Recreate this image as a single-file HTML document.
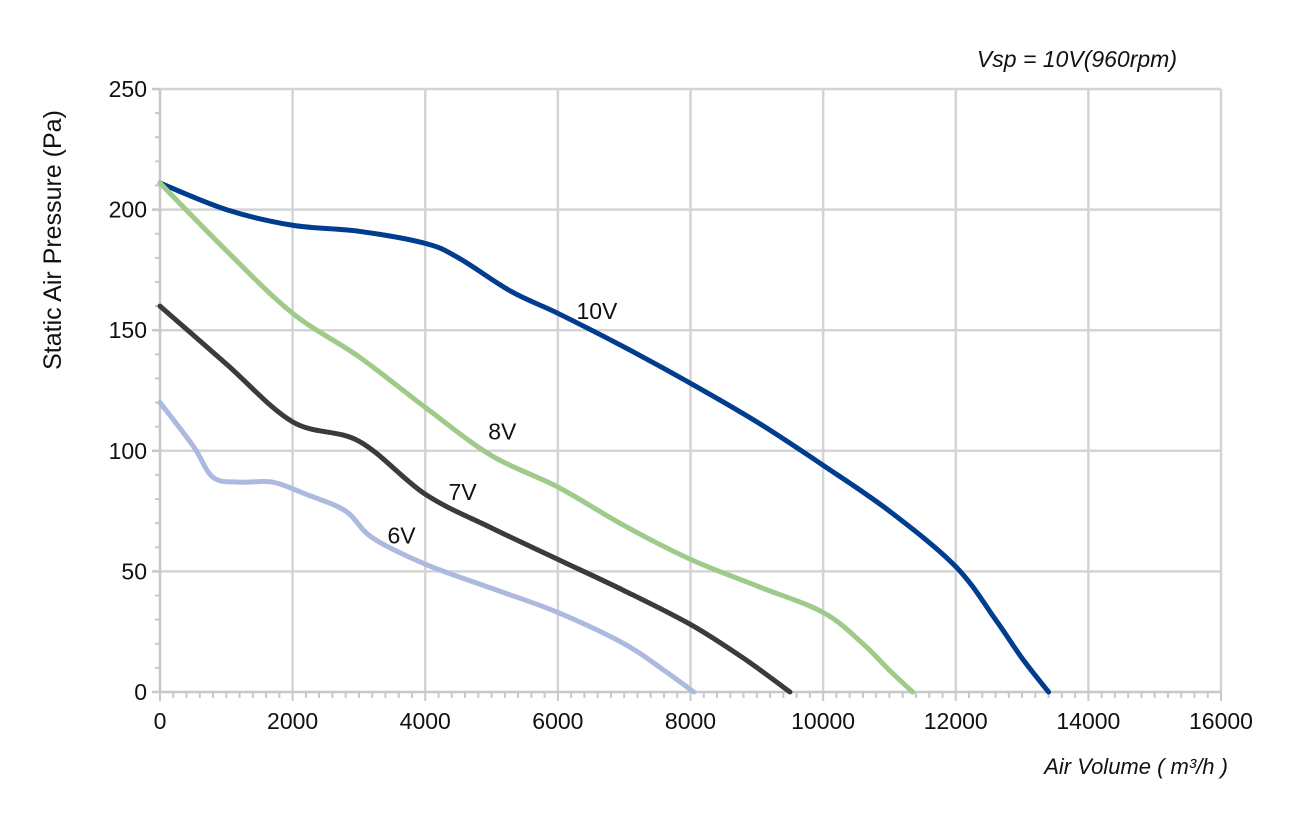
<!DOCTYPE html>
<html><head><meta charset="utf-8"><style>
body{margin:0;background:#fff;}
svg text{font-family:"Liberation Sans",sans-serif;fill:#111;}
</style></head><body>
<svg id="chart" width="1294" height="812" viewBox="0 0 1294 812" xmlns="http://www.w3.org/2000/svg">
<g id="grid"></g>
<g id="axes"></g>
<g id="series"></g>
<g id="labels"></g>
<text x="1177" y="67" font-size="23" font-style="italic" text-anchor="end">Vsp = 10V(960rpm)</text>
<text x="1228" y="774" font-size="22" font-style="italic" text-anchor="end">Air Volume ( m³/h )</text>
<text transform="translate(61,240) rotate(-90)" font-size="25" text-anchor="middle">Static Air Pressure  (Pa)</text>
</svg>
<script>
const xTicks=[0,2000,4000,6000,8000,10000,12000,14000,16000];
const yTicks=[0,50,100,150,200,250];
const seriesNames=["10V","8V","7V","6V"];
const s10x=[0,1000,2000,3000,4000,4500,5300,6000,7000,8000,9000,10000,11000,12000,12600,13000,13400];
const s10y=[211,200,193.5,191,186,180,166,157,143,128,112,94,75,52,30,14,0];
const s8x=[0,1000,2000,3000,4000,5000,6000,7000,8000,9000,10000,10600,11000,11350];
const s8y=[211,183,157,139,118,98,85,69,55,44,33,20,9,0];
const s7x=[0,1000,2000,3000,4000,5000,6000,7000,8000,8800,9500];
const s7y=[160,136,112,104,82,68,55,42,28,14,0];
const s6x=[0,500,800,1200,1700,2200,2800,3200,4000,5000,6000,7000,7600,8050];
const s6y=[120,102,89,87,87,82,75,64,53,43,33,20,9,0];
const labelX=[6280,4950,4350,3430];
const labelY=[155,105,80,62];
const colors=["#003d8f","#9ecb8a","#3b3b3b","#adb9de"];
const X=v=>160+v*(1221-160)/16000, Y=v=>692-v*(692-89)/250;
const NS="http://www.w3.org/2000/svg";
function mk(tag,attrs,parent){const e=document.createElementNS(NS,tag);for(const k in attrs)e.setAttribute(k,attrs[k]);parent.appendChild(e);return e;}
const grid=document.getElementById('grid'),axes=document.getElementById('axes'),ser=document.getElementById('series'),lab=document.getElementById('labels');
xTicks.forEach((t,i)=>{if(i>0){const l=mk('line',{x1:X(t),x2:X(t),y1:89,y2:692,stroke:'#d4d4d4','stroke-width':2.5},grid);}
 const tx=mk('text',{x:X(t),y:729,'font-size':23,'text-anchor':'middle'},axes);tx.textContent=t;});
yTicks.forEach((t,i)=>{if(i>0){const l=mk('line',{x1:160,x2:1221,y1:Y(t),y2:Y(t),stroke:'#d4d4d4','stroke-width':2.5},grid);}
 mk('line',{x1:152,x2:160,y1:Y(t),y2:Y(t),stroke:'#c8c8c8','stroke-width':2.5},axes);
 const tx=mk('text',{x:147,y:Y(t)+8,'font-size':23,'text-anchor':'end'},axes);tx.textContent=t;});
for(let v=0;v<=16000;v+=200){mk('line',{x1:X(v),x2:X(v),y1:692,y2:v%2000?698:701,stroke:'#c8c8c8','stroke-width':2},axes);}
for(let v=0;v<=250;v+=10){mk('line',{x1:155,x2:160,y1:Y(v),y2:Y(v),stroke:'#c8c8c8','stroke-width':2},axes);}
const ax1=mk('line',{x1:160,x2:160,y1:89,y2:693,stroke:'#c8c8c8','stroke-width':2.5},axes);
const ax2=mk('line',{x1:159,x2:1222,y1:692,y2:692,stroke:'#c8c8c8','stroke-width':2.5},axes);
function path(xs,ys){const p=xs.map((x,i)=>[X(x),Y(ys[i])]);let d='M'+p[0];for(let i=0;i<p.length-1;i++){const a=p[i-1]||p[i],b=p[i],c=p[i+1],e=p[i+2]||c;
 d+=` C${b[0]+(c[0]-a[0])/6},${b[1]+(c[1]-a[1])/6} ${c[0]-(e[0]-b[0])/6},${c[1]-(e[1]-b[1])/6} ${c[0]},${c[1]}`;}return d;}
const data=[[s10x,s10y],[s8x,s8y],[s7x,s7y],[s6x,s6y]];
data.forEach((s,i)=>{const p=mk('path',{d:path(s[0],s[1]),fill:'none',stroke:colors[i],'stroke-width':5,'stroke-linecap':'round','stroke-linejoin':'round'},ser);
 
 const t=mk('text',{x:X(labelX[i]),y:Y(labelY[i])+1,'font-size':23},lab);t.textContent=seriesNames[i];
 });
</script>
</body></html>
